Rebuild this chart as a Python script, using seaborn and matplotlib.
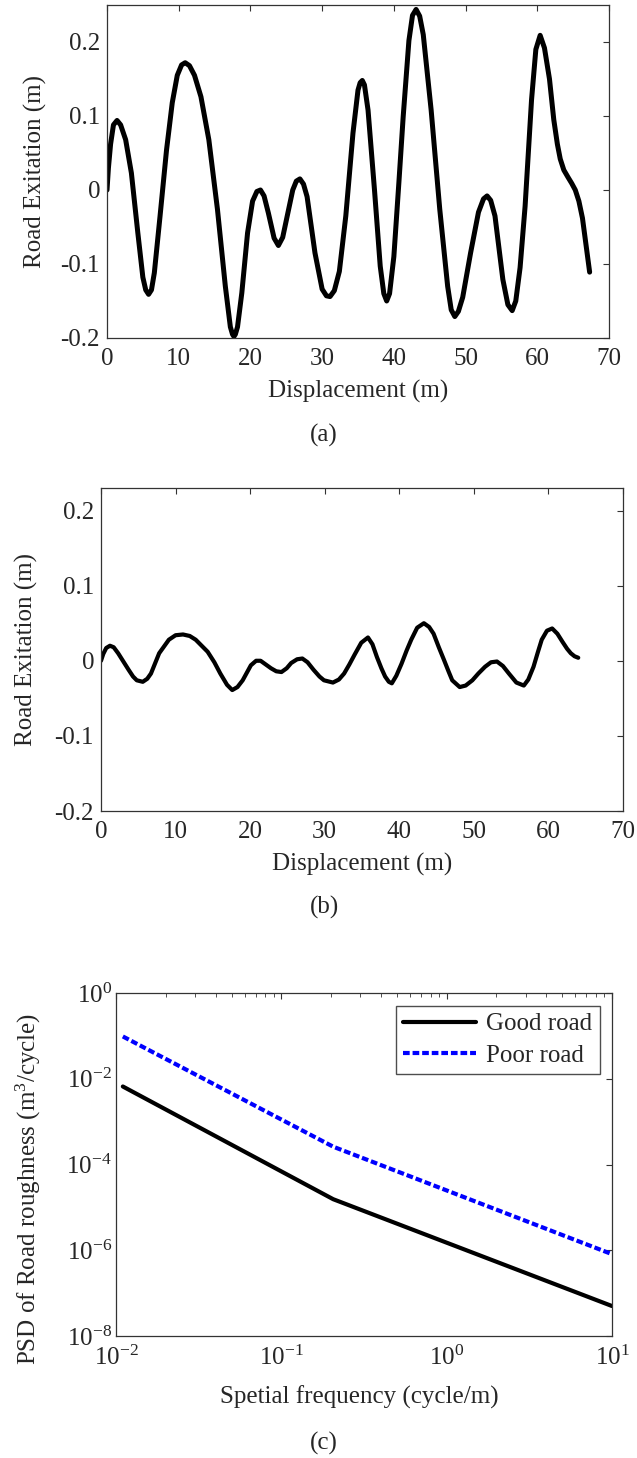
import numpy as np
import pandas as pd
import matplotlib
matplotlib.use("Agg")
import matplotlib.pyplot as plt
import seaborn as sns
from matplotlib.ticker import LogLocator, NullLocator, FixedLocator

# (a) road excitation, poor road
disp_a = [0.0, 0.2, 0.5, 0.9, 1.4, 1.9, 2.6, 3.4, 4.3, 5.0, 5.4, 5.8, 6.2, 6.6, 7.4,
          8.3, 9.1, 9.8, 10.4, 10.9, 11.5, 12.2, 13.1, 14.2, 15.4, 16.5, 17.2, 17.5,
          17.7, 17.9, 18.2, 18.8, 19.6, 20.3, 20.9, 21.4, 21.9, 22.5, 23.3, 23.9,
          24.5, 25.2, 25.9, 26.4, 26.9, 27.4, 27.9, 29.0, 30.0, 30.6, 31.1, 31.7,
          32.4, 33.3, 34.3, 35.0, 35.3, 35.6, 35.9, 36.4, 37.3, 38.1, 38.6, 39.0,
          39.4, 40.0, 40.7, 41.3, 42.1, 42.6, 43.1, 43.6, 44.1, 45.2, 46.4, 47.5,
          48.0, 48.5, 49.0, 49.6, 50.7, 51.8, 52.5, 53.0, 53.5, 54.1, 55.2, 55.9,
          56.5, 57.0, 57.6, 58.3, 59.2, 59.8, 60.4, 61.0, 61.7, 62.3, 62.8, 63.2,
          63.7, 64.3, 64.8, 65.3, 65.8, 66.3, 67.3]
exc_a = [0.0, 0.030, 0.062, 0.088, 0.094, 0.088, 0.068, 0.023, -0.058, -0.118,
         -0.135, -0.141, -0.135, -0.112, -0.035, 0.054, 0.118, 0.155, 0.169, 0.172,
         0.168, 0.155, 0.126, 0.068, -0.026, -0.130, -0.185, -0.195, -0.198, -0.195,
         -0.185, -0.139, -0.058, -0.015, -0.002, 0.0, -0.008, -0.031, -0.065, -0.075,
         -0.064, -0.032, 0.0, 0.012, 0.015, 0.008, -0.009, -0.085, -0.134, -0.143,
         -0.144, -0.136, -0.110, -0.035, 0.077, 0.135, 0.145, 0.148, 0.142, 0.108,
         0.0, -0.103, -0.140, -0.150, -0.140, -0.090, 0.010, 0.099, 0.202, 0.236,
         0.244, 0.235, 0.210, 0.108, -0.026, -0.130, -0.162, -0.171, -0.164, -0.145,
         -0.085, -0.030, -0.012, -0.008, -0.014, -0.035, -0.121, -0.155, -0.163,
         -0.150, -0.105, -0.022, 0.122, 0.190, 0.209, 0.192, 0.150, 0.095, 0.062,
         0.042, 0.027, 0.017, 0.009, 0.0, -0.015, -0.038, -0.111]

# (b) road excitation, good road
disp_b = [0.0, 0.3, 0.7, 1.2, 1.7, 2.3, 3.0, 3.7, 4.3, 4.8, 5.6, 6.2, 6.7, 7.8, 9.1,
          10.0, 11.0, 11.9, 12.7, 14.3, 15.2, 16.0, 16.9, 17.6, 18.3, 19.0, 20.1,
          20.8, 21.4, 22.1, 22.8, 23.5, 24.2, 24.9, 25.5, 26.3, 27.0, 27.7, 28.5,
          29.3, 29.9, 31.1, 31.9, 32.6, 33.3, 34.0, 34.9, 35.8, 36.4, 37.0, 37.6,
          38.1, 38.6, 39.0, 39.6, 40.3, 41.0, 41.6, 42.4, 43.3, 44.0, 44.6, 45.3,
          46.0, 46.6, 47.1, 48.1, 48.9, 49.8, 50.6, 51.5, 52.3, 53.1, 53.9, 54.7,
          55.7, 56.7, 57.3, 58.0, 58.6, 59.1, 59.8, 60.5, 61.2, 61.9, 62.5, 63.0,
          63.5, 64.0]
exc_b = [0.0, 0.009, 0.017, 0.020, 0.018, 0.010, -0.001, -0.012, -0.021, -0.026,
         -0.028, -0.024, -0.017, 0.010, 0.028, 0.034, 0.035, 0.033, 0.028, 0.012,
         -0.002, -0.017, -0.032, -0.039, -0.035, -0.026, -0.006, 0.0, 0.0, -0.005,
         -0.010, -0.014, -0.015, -0.010, -0.003, 0.002, 0.003, -0.002, -0.012,
         -0.021, -0.026, -0.029, -0.025, -0.017, -0.005, 0.008, 0.024, 0.031, 0.022,
         0.005, -0.010, -0.021, -0.028, -0.030, -0.020, -0.004, 0.014, 0.028, 0.044,
         0.050, 0.045, 0.036, 0.018, 0.001, -0.014, -0.026, -0.035, -0.033, -0.026,
         -0.017, -0.008, -0.002, -0.001, -0.007, -0.017, -0.029, -0.033, -0.025,
         -0.008, 0.012, 0.028, 0.040, 0.043, 0.036, 0.025, 0.016, 0.010, 0.006, 0.004]

# (c) PSD of road roughness
freq = [0.011, 0.206, 10.0]
psd_good = [6.6e-3, 1.55e-5, 5.0e-8]
psd_poor = [9.7e-2, 2.6e-4, 8.1e-7]

sns.set_theme(style="white")
plt.rcParams['font.family'] = ['Liberation Serif', 'DejaVu Serif']
plt.rcParams['mathtext.fontset'] = 'custom'
plt.rcParams['mathtext.rm'] = 'Liberation Serif'
plt.rcParams['mathtext.it'] = 'Liberation Serif:italic'
plt.rcParams['mathtext.bf'] = 'Liberation Serif:bold'

fs = 18
W, H = 637.0, 1458.0
fig = plt.figure(figsize=(6.37, 14.58), dpi=100)
ax_a = fig.add_axes([107 / W, 1 - 338 / H, 502 / W, 333 / H])
ax_b = fig.add_axes([101 / W, 1 - 811 / H, 522 / W, 323 / H])
ax_c = fig.add_axes([116 / W, 1 - 1336 / H, 496 / W, 343 / H])

df_a = pd.DataFrame({'x': disp_a, 'y': exc_a})
df_b = pd.DataFrame({'x': disp_b, 'y': exc_b})
sns.lineplot(data=df_a, x='x', y='y', ax=ax_a, color='black', linewidth=3.6,
             solid_joinstyle='round', solid_capstyle='round')
sns.lineplot(data=df_b, x='x', y='y', ax=ax_b, color='black', linewidth=3.0,
             solid_joinstyle='round', solid_capstyle='round')

for ax, top, xl_y in [(ax_a, 0.25, -0.162), (ax_b, 0.23, -0.167)]:
    ax.set_xlim(0, 70)
    ax.set_ylim(-0.2, top)
    ax.set_xticks(range(0, 71, 10))
    ax.set_yticks([-0.2, -0.1, 0, 0.1, 0.2])
    ax.set_yticklabels(['-0.2', '-0.1', '0', '0.1', '0.2'])
    ax.set_xlabel('Displacement (m)', fontsize=fs, va='center')
    ax.set_ylabel('Road Exitation (m)', fontsize=fs, va='center')
    ax.xaxis.set_label_coords(0.5, xl_y)
    ax.yaxis.set_label_coords(-0.142, 0.5)

df_c = pd.DataFrame({'f': freq + freq,
                     'psd': psd_good + psd_poor,
                     'road': ['Good road'] * 3 + ['Poor road'] * 3})
sns.lineplot(data=df_c[df_c.road == 'Good road'], x='f', y='psd', ax=ax_c,
             color='black', linewidth=3.0, label='Good road')
sns.lineplot(data=df_c[df_c.road == 'Poor road'], x='f', y='psd', ax=ax_c,
             color='blue', linewidth=3.0, linestyle=(0, (1.6, 0.7)), label='Poor road')
ax_c.set_xscale('log')
ax_c.set_yscale('log')
ax_c.set_xlim(1e-2, 1e1)
ax_c.set_ylim(1e-8, 1e0)
ax_c.yaxis.set_major_locator(FixedLocator([1e-8, 1e-6, 1e-4, 1e-2, 1e0]))
ax_c.yaxis.set_minor_locator(NullLocator())
ax_c.xaxis.set_minor_locator(LogLocator(base=10, subs=np.arange(2, 10), numticks=20))
ax_c.set_xlabel('Spetial frequency (cycle/m)', fontsize=fs, va='center')
ax_c.set_ylabel('PSD of Road roughness (m$^3$/cycle)', fontsize=fs, va='center')
ax_c.xaxis.set_label_coords(0.49, -0.178)
ax_c.yaxis.set_label_coords(-0.177, 0.43)
leg = ax_c.legend(loc='upper right', fontsize=fs, frameon=True, fancybox=False,
                  handlelength=2.9, handletextpad=0.4, borderpad=0.3,
                  labelspacing=0.35, borderaxespad=0.5)
leg.get_frame().set_edgecolor('#222222')
leg.get_frame().set_linewidth(1.0)

for ax in (ax_a, ax_b, ax_c):
    ax.tick_params(which='both', direction='in', top=True, right=True,
                   labelsize=fs, color='#333333')
    ax.tick_params(which='major', length=4, width=0.8)
    ax.tick_params(which='minor', length=3, width=0.6)
    ax.tick_params(axis='x', pad=7)
    ax.tick_params(axis='y', pad=5)
    for s in ax.spines.values():
        s.set_color('#333333')
        s.set_linewidth(0.9)
ax_c.tick_params(axis='y', pad=3)

fig.text(0.509, 1 - 435 / H, '(a)', ha='center', va='center', fontsize=fs)
fig.text(0.509, 1 - 907 / H, '(b)', ha='center', va='center', fontsize=fs)
fig.text(0.509, 1 - 1443 / H, '(c)', ha='center', va='center', fontsize=fs)

fig.savefig('out.png', dpi=100)
